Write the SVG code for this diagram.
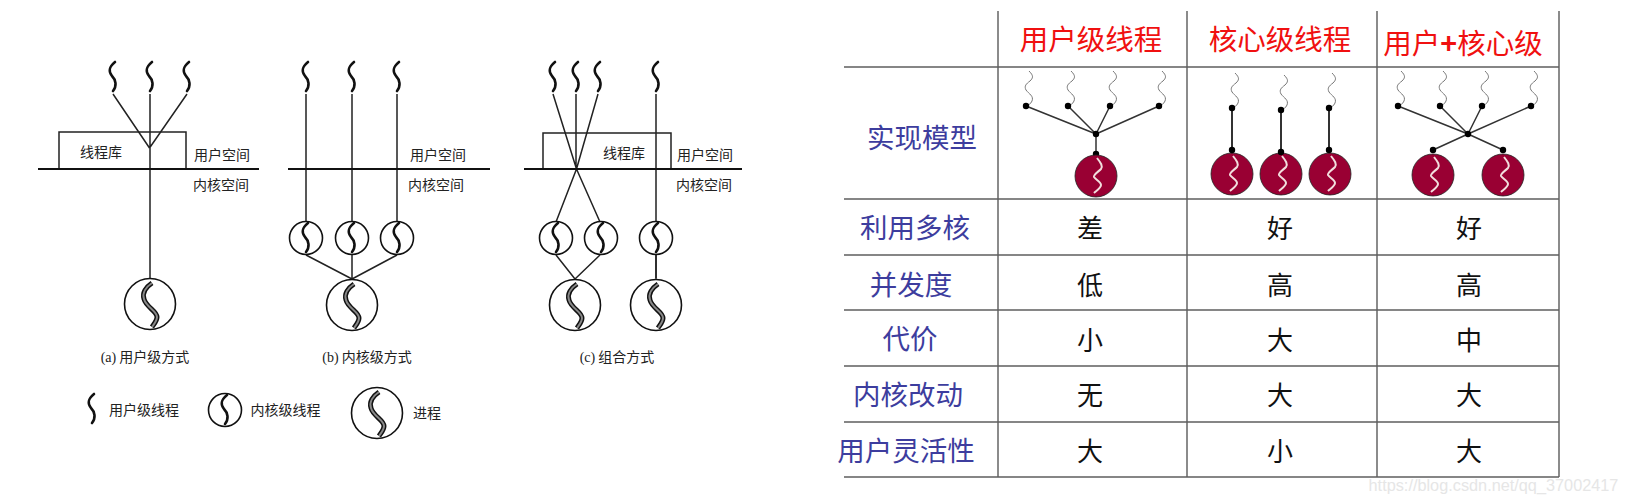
<svg xmlns="http://www.w3.org/2000/svg" width="1625" height="504" viewBox="0 0 1625 504">
<style>
text{font-family:"Noto Sans CJK SC","Liberation Sans",sans-serif;text-anchor:middle}
.l{fill:#222;font-size:14px}
.cap{fill:#222;font-size:14px}
.s{font-family:"Liberation Serif",serif}
.h{fill:#f01010;font-size:28.500px}
.r{fill:#3d3d9e;font-size:27.500px}
.v{fill:#111;font-size:26px}
.wm{font-family:"Liberation Sans",sans-serif;font-size:16.300px;fill:#e6e6e6}
.ln{stroke:#222;stroke-width:1.500;fill:none}
.bl{stroke:#111;stroke-width:2;fill:none}
.c{stroke:#111;stroke-width:1.600;fill:#fff}
.t{stroke:#111;stroke-width:2.600;fill:none;stroke-linecap:round}
.g{stroke:#6f6f6f;stroke-width:1.600;fill:none}
.g2{stroke:#5f5f5f;stroke-width:1.500;fill:none}
.tl{stroke:#333;stroke-width:1.500;fill:none}
.tk{stroke:#333;stroke-width:2;fill:none}
.p{fill:#990033;stroke:#222;stroke-width:.8}
.d{fill:#000}
.w{stroke:#777;stroke-width:1;fill:none}
.wh{stroke:#f2dede;stroke-width:2;fill:none}
</style>
<defs>
<path id="th" class="t" d="M2,0C-4,5-5,9-1,14C3,18 4,24 0,29"/>
<g id="pr"><path d="M2,-21C-4,-17-8,-11-6,-5C-4,3 7,7 7,13C7,17 4,20 2,23" stroke="#111" stroke-width="5" fill="none"/><path d="M2,-21C-4,-17-8,-11-6,-5C-4,3 7,7 7,13C7,17 4,20 2,23" stroke="#888" stroke-width="2" fill="none"/></g>
<path id="wv" class="w" d="M3,-35C8,-30 7,-28 4,-25C0,-22-2,-20 0,-16C3,-12 8,-10 6,-5C5,-2 2,-1 0,0"/>
<g id="rp"><circle class="p" r="21"/><path class="wh" d="M1,-18C5,-13 7,-10 5,-7C2,-4-3,-1-2,1C0,4 5,6 5,9C5,12 0,15-2,17"/></g>
</defs>

<g id="connectors">
<path class="ln" d="M113,94L149.500,148M187,94L149.500,148M150,94V278"/>
<path class="ln" d="M306,94V222M352,94V222M397,94V222M306,255L352,279M352,255V279M397,255L352,279"/>
<path class="ln" d="M553,94L576.500,169M576,94V169M598,94L576.500,169M576.500,169L556,222M576.500,169L600,222M556,255L575,279M600,255L575,279M656,94V278"/>
<path class="tl" d="M1026,106L1096,134M1068,106L1096,134M1110,106L1096,134M1159,106L1096,134M1096,134V154"/>
<path class="tk" d="M1232,108V150M1281,110V152M1329,108V150"/>
<path class="tl" d="M1398,106L1468,134M1440,106L1468,134M1482,106L1468,134M1531,106L1468,134M1433,150L1468,134M1503,150L1468,134"/>
</g>

<g id="diagram-a">
<path class="ln" d="M59,169V132H186V169"/>
<path class="bl" d="M38,169H259"/>
<use href="#th" x="113" y="62"/><use href="#th" x="150" y="62"/><use href="#th" x="187" y="62"/>
<text class="l" x="101" y="157">线程库</text>
<text class="l" x="222" y="160">用户空间</text>
<text class="l" x="221" y="190">内核空间</text>
<circle class="c" cx="150" cy="304" r="25.500"/><use href="#pr" x="150" y="304"/>
<text class="cap" x="145" y="362"><tspan class="s">(a)</tspan> 用户级方式</text>
</g>

<g id="diagram-b">
<path class="bl" d="M288,169H490"/>
<use href="#th" x="306" y="62"/><use href="#th" x="352" y="62"/><use href="#th" x="397" y="62"/>
<text class="l" x="438" y="160">用户空间</text>
<text class="l" x="436" y="190">内核空间</text>
<circle class="c" cx="306" cy="238" r="16.500"/><circle class="c" cx="352" cy="238" r="16.500"/><circle class="c" cx="397" cy="238" r="16.500"/>
<use href="#th" x="306" y="223"/><use href="#th" x="352" y="223"/><use href="#th" x="397" y="223"/>
<circle class="c" cx="352" cy="305" r="25.500"/><use href="#pr" x="352" y="305"/>
<text class="cap" x="367" y="362"><tspan class="s">(b)</tspan> 内核级方式</text>
</g>

<g id="diagram-c">
<path class="ln" d="M543,169V133H671V169"/>
<path class="bl" d="M524,169H742"/>
<use href="#th" x="553" y="62"/><use href="#th" x="576" y="62"/><use href="#th" x="598" y="62"/><use href="#th" x="656" y="62"/>
<text class="l" x="624" y="158">线程库</text>
<text class="l" x="705" y="160">用户空间</text>
<text class="l" x="704" y="190">内核空间</text>
<circle class="c" cx="556" cy="238" r="16.500"/><circle class="c" cx="601" cy="238" r="16.500"/><circle class="c" cx="656" cy="238" r="16.500"/>
<use href="#th" x="556" y="223"/><use href="#th" x="601" y="223"/><use href="#th" x="656" y="223"/>
<path class="ln" d="M656,255V279"/>
<circle class="c" cx="575" cy="305" r="25.500"/><use href="#pr" x="575" y="305"/>
<circle class="c" cx="656" cy="305" r="25.500"/><use href="#pr" x="656" y="305"/>
<text class="cap" x="617" y="362"><tspan class="s">(c)</tspan> 组合方式</text>
</g>

<g id="legend">
<use href="#th" x="92" y="394"/><text class="l" x="144" y="415">用户级线程</text>
<circle class="c" cx="225" cy="410" r="16.500"/><use href="#th" x="225" y="395"/><text class="l" x="285.500" y="415">内核级线程</text>
<circle class="c" cx="377" cy="413" r="25.500"/><use href="#pr" x="377" y="413"/><text class="l" x="427" y="418">进程</text>
</g>

<g id="table">
<path class="g" d="M998,11V477M1187,11V477M1377,11V477M1559,11V477"/>
<path class="g2" d="M844,67H1559M844,199H1559M844,255H1559M844,310H1559M844,366H1559M844,422H1559M844,477H1559"/>
<text class="h" x="1091" y="50">用户级线程</text>
<text class="h" x="1280" y="50">核心级线程</text>
<text class="h" x="1463" y="54">用户<tspan font-weight="700">+</tspan>核心级</text>
<text class="r" x="922" y="148">实现模型</text>
<text class="r" x="915" y="238">利用多核</text>
<text class="r" x="911" y="295">并发度</text>
<text class="r" x="910" y="349">代价</text>
<text class="r" x="908" y="405">内核改动</text>
<text class="r" x="906" y="461">用户灵活性</text>
<text class="v" x="1090" y="238">差</text><text class="v" x="1280" y="238">好</text><text class="v" x="1469" y="238">好</text>
<text class="v" x="1090" y="295">低</text><text class="v" x="1280" y="295">高</text><text class="v" x="1469" y="295">高</text>
<text class="v" x="1090" y="350">小</text><text class="v" x="1280" y="350">大</text><text class="v" x="1469" y="350">中</text>
<text class="v" x="1090" y="405">无</text><text class="v" x="1280" y="405">大</text><text class="v" x="1469" y="405">大</text>
<text class="v" x="1090" y="461">大</text><text class="v" x="1280" y="461">小</text><text class="v" x="1469" y="461">大</text>
</g>

<g id="model-user">
<use href="#wv" x="1026" y="106"/><use href="#wv" x="1068" y="106"/><use href="#wv" x="1110" y="106"/><use href="#wv" x="1159" y="106"/>
<g class="d"><circle cx="1026" cy="106" r="3.200"/><circle cx="1068" cy="106" r="3.200"/><circle cx="1110" cy="106" r="3.200"/><circle cx="1159" cy="106" r="3.200"/><circle cx="1096" cy="134" r="3.200"/><circle cx="1096" cy="154" r="3.200"/></g>
<use href="#rp" x="1096" y="176"/>
</g>
<g id="model-kernel">
<use href="#wv" x="1232" y="108"/><use href="#wv" x="1281" y="110"/><use href="#wv" x="1329" y="108"/>
<use href="#rp" x="1232" y="174"/><use href="#rp" x="1281" y="174"/><use href="#rp" x="1330" y="174"/>
<g class="d"><circle cx="1232" cy="108" r="3.200"/><circle cx="1281" cy="110" r="3.200"/><circle cx="1329" cy="108" r="3.200"/><circle cx="1232" cy="150" r="3.200"/><circle cx="1281" cy="152" r="3.200"/><circle cx="1329" cy="150" r="3.200"/></g>
</g>
<g id="model-hybrid">
<use href="#wv" x="1398" y="106"/><use href="#wv" x="1440" y="106"/><use href="#wv" x="1482" y="106"/><use href="#wv" x="1531" y="106"/>
<use href="#rp" x="1433" y="175"/><use href="#rp" x="1503" y="175"/>
<g class="d"><circle cx="1398" cy="106" r="3.200"/><circle cx="1440" cy="106" r="3.200"/><circle cx="1482" cy="106" r="3.200"/><circle cx="1531" cy="106" r="3.200"/><circle cx="1468" cy="134" r="3.200"/><circle cx="1433" cy="150" r="3.200"/><circle cx="1503" cy="150" r="3.200"/></g>
</g>

<text class="wm" x="1493.500" y="491">https://blog.csdn.net/qq_37002417</text>
</svg>
